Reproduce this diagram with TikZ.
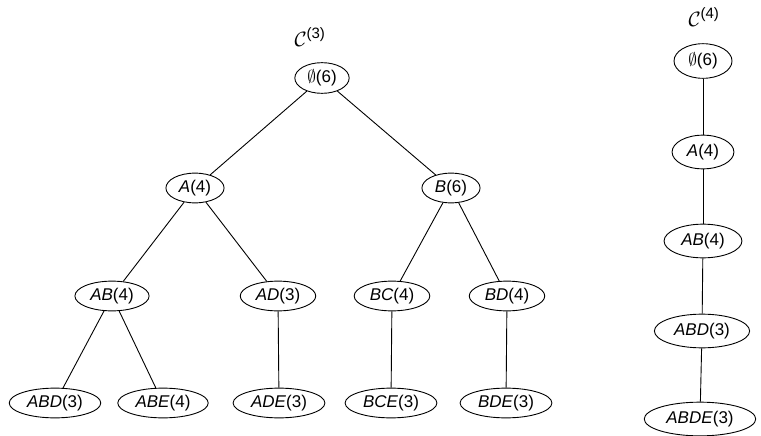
\documentclass[tikz,border=0pt]{standalone}
\usepackage{fontspec}
\setmainfont{Liberation Sans}
\usetikzlibrary{shapes.geometric}
\begin{document}
\begin{tikzpicture}[x=1pt,y=-1pt,
  nd/.style={draw,ellipse,line width=0.9pt,inner xsep=4.5pt,inner ysep=2.6pt,
    font=\fontsize{17}{20}\selectfont},
  ndr/.style={nd,inner xsep=5.8pt,inner ysep=4pt},
  edge/.style={line width=0.9pt},
  lbl/.style={font=\fontsize{22}{26}\selectfont}]
\useasboundingbox (0,0) rectangle (761,436);
% left tree
\node[nd] (r)   at (322,78)  {$\emptyset$(6)};
\node[nd] (a)   at (195,188) {\textit{A}(4)};
\node[nd] (b)   at (451,188) {\textit{B}(6)};
\node[nd] (ab)  at (112,296) {\textit{AB}(4)};
\node[nd] (ad)  at (278,296) {\textit{AD}(3)};
\node[nd] (bc)  at (392,296) {\textit{BC}(4)};
\node[nd] (bd)  at (507,296) {\textit{BD}(4)};
\node[nd] (abd) at (55,403)  {\textit{ABD}(3)};
\node[nd] (abe) at (163,403) {\textit{ABE}(4)};
\node[nd] (ade) at (279,403) {\textit{ADE}(3)};
\node[nd] (bce) at (391,403) {\textit{BCE}(3)};
\node[nd] (bde) at (506,403) {\textit{BDE}(3)};
\node[lbl] (c3) at (310,37) {$\mathcal{C}^{\mbox{\fontsize{15}{18}\selectfont(3)}}$};
\draw[edge] (r) -- (a);
\draw[edge] (r) -- (b);
\draw[edge] (a) -- (ab);
\draw[edge] (a) -- (ad);
\draw[edge] (b) -- (bc);
\draw[edge] (b) -- (bd);
\draw[edge] (ab) -- (abd);
\draw[edge] (ab) -- (abe);
\draw[edge] (ad) -- (ade);
\draw[edge] (bc) -- (bce);
\draw[edge] (bd) -- (bde);
% right chain
\node[ndr] (r2)    at (703,61)  {$\emptyset$(6)};
\node[ndr] (a2)    at (703,152) {\textit{A}(4)};
\node[ndr] (ab2)   at (703,241) {\textit{AB}(4)};
\node[ndr] (abd2)  at (702,331) {\textit{ABD}(3)};
\node[ndr] (abde2) at (700,419) {\textit{ABDE}(3)};
\node[lbl] (c4) at (704,17) {$\mathcal{C}^{\mbox{\fontsize{15}{18}\selectfont(4)}}$};
\draw[edge] (r2) -- (a2);
\draw[edge] (a2) -- (ab2);
\draw[edge] (ab2) -- (abd2);
\draw[edge] (abd2) -- (abde2);
\end{tikzpicture}
\end{document}
